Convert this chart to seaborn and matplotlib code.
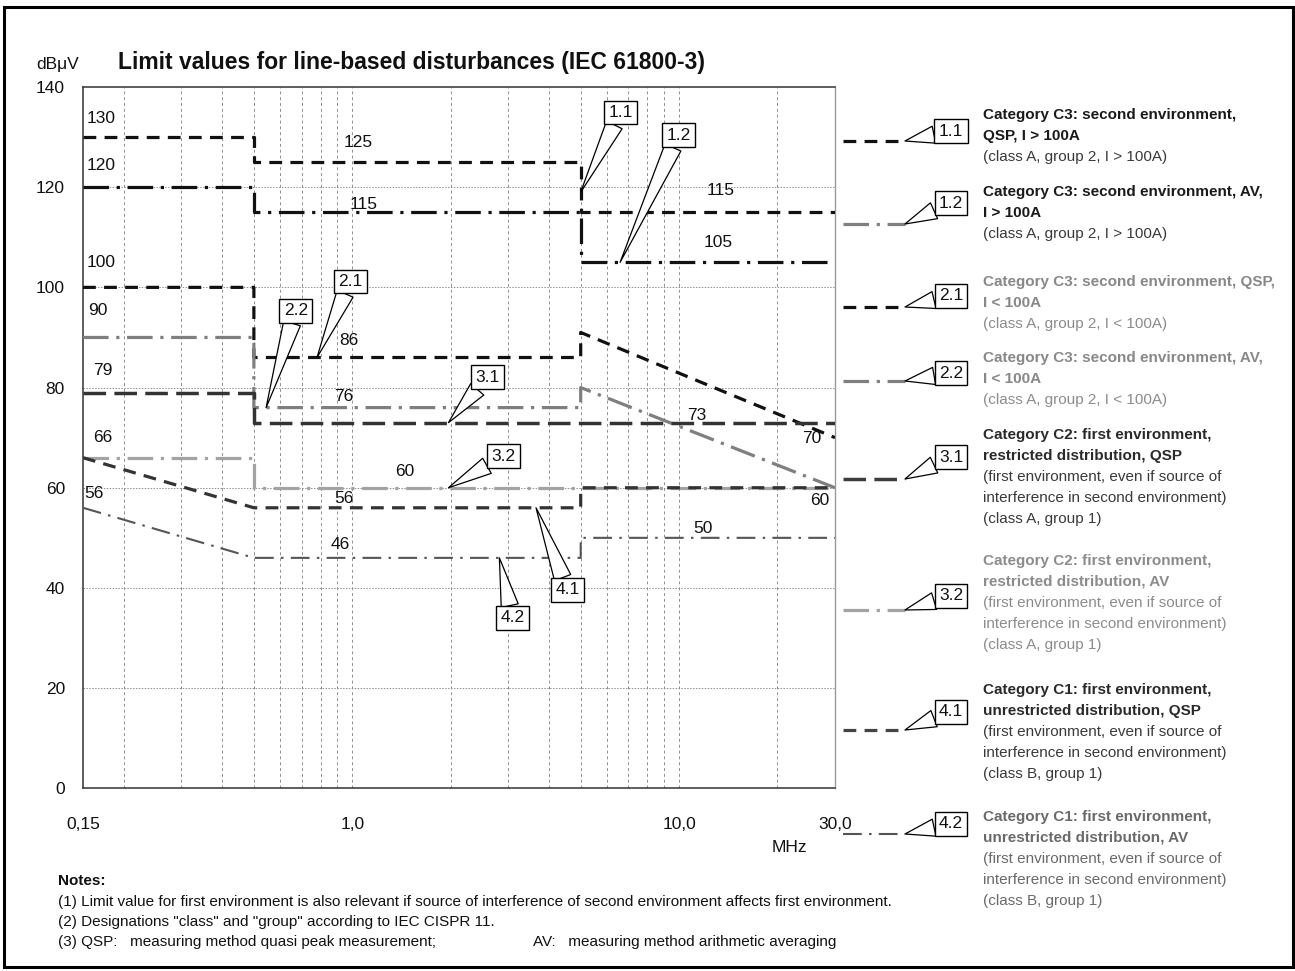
import matplotlib
matplotlib.use("Agg")
import matplotlib.pyplot as plt
import seaborn as sns
from matplotlib.patches import Rectangle

# ---- limit curves: frequency breakpoints (MHz) and limit levels (dBuV) ----
freq_c3_high = [0.15, 0.5, 0.5, 5.0, 5.0, 30.0]
qsp_c3_high = [130, 130, 125, 125, 115, 115]      # 1.1
av_c3_high = [120, 120, 115, 115, 105, 105]       # 1.2

freq_c3_low = [0.15, 0.5, 0.5, 5.0, 5.0, 30.0]
qsp_c3_low = [100, 100, 86, 86, 91, 70]           # 2.1
av_c3_low = [90, 90, 76, 76, 80, 60]              # 2.2

freq_c2 = [0.15, 0.5, 0.5, 30.0]
qsp_c2 = [79, 79, 73, 73]                         # 3.1
av_c2 = [66, 66, 60, 60]                          # 3.2

freq_c1 = [0.15, 0.5, 5.0, 5.0, 30.0]
qsp_c1 = [66, 56, 56, 60, 60]                     # 4.1
av_c1 = [56, 46, 46, 50, 50]                      # 4.2

curve_ids = ["1.1", "1.2", "2.1", "2.2", "3.1", "3.2", "4.1", "4.2"]
y_ticks = [0, 20, 40, 60, 80, 100, 120, 140]
x_major = [0.15, 1.0, 10.0, 30.0]
x_major_labels = ["0,15", "1,0", "10,0", "30,0"]
x_minor = [0.2, 0.3, 0.4, 0.5, 0.6, 0.7, 0.8, 0.9,
           2, 3, 4, 5, 6, 7, 8, 9, 20]

legend_titles = [
    ["Category C3: second environment,", "QSP, I > 100A"],
    ["Category C3: second environment, AV,", "I > 100A"],
    ["Category C3: second environment, QSP,", "I < 100A"],
    ["Category C3: second environment, AV,", "I < 100A"],
    ["Category C2: first environment,", "restricted distribution, QSP"],
    ["Category C2: first environment,", "restricted distribution, AV"],
    ["Category C1: first environment,", "unrestricted distribution, QSP"],
    ["Category C1: first environment,", "unrestricted distribution, AV"],
]
legend_notes = [
    ["(class A, group 2, I > 100A)"],
    ["(class A, group 2, I > 100A)"],
    ["(class A, group 2, I < 100A)"],
    ["(class A, group 2, I < 100A)"],
    ["(first environment, even if source of", "interference in second environment)", "(class A, group 1)"],
    ["(first environment, even if source of", "interference in second environment)", "(class A, group 1)"],
    ["(first environment, even if source of", "interference in second environment)", "(class B, group 1)"],
    ["(first environment, even if source of", "interference in second environment)", "(class B, group 1)"],
]
notes = [
    "(1) Limit value for first environment is also relevant if source of interference of second environment affects first environment.",
    "(2) Designations \"class\" and \"group\" according to IEC CISPR 11.",
]
note3_left = "(3) QSP:   measuring method quasi peak measurement;"
note3_right = "AV:   measuring method arithmetic averaging"

curves = [
    (freq_c3_high, qsp_c3_high), (freq_c3_high, av_c3_high),
    (freq_c3_low, qsp_c3_low), (freq_c3_low, av_c3_low),
    (freq_c2, qsp_c2), (freq_c2, av_c2),
    (freq_c1, qsp_c1), (freq_c1, av_c1),
]

# ---- line styles ----
DASH = (0, (4.0, 2.6))
LDASH = (0, (6.5, 2.4))
DASHDOT = (0, (8.0, 2.4, 1.0, 2.4))
styles = {
    "1.1": dict(color="#111111", lw=2.3, ls=DASH),
    "1.2": dict(color="#111111", lw=2.3, ls=DASHDOT),
    "2.1": dict(color="#111111", lw=2.3, ls=DASH),
    "2.2": dict(color="#7f7f7f", lw=2.3, ls=DASHDOT),
    "3.1": dict(color="#333333", lw=2.5, ls=LDASH),
    "3.2": dict(color="#a3a3a3", lw=2.3, ls=DASHDOT),
    "4.1": dict(color="#333333", lw=2.3, ls=DASH),
    "4.2": dict(color="#555555", lw=1.5, ls=(0, (9.0, 3.5, 1.2, 3.5))),
}
legend_sample_colors = {"1.1": "#111111", "1.2": "#7f7f7f", "2.1": "#111111",
                        "2.2": "#7f7f7f", "3.1": "#3c3c3c", "3.2": "#a3a3a3",
                        "4.1": "#444444", "4.2": "#555555"}
title_colors = ["#1a1a1a", "#1a1a1a", "#888888", "#888888",
                "#2a2a2a", "#8c8c8c", "#2a2a2a", "#6a6a6a"]
note_colors = ["#3a3a3a", "#3a3a3a", "#8c8c8c", "#8c8c8c",
               "#3a3a3a", "#8c8c8c", "#3a3a3a", "#6a6a6a"]

sns.set_theme(style="white")
plt.rcParams["font.family"] = ["Liberation Sans", "DejaVu Sans"]

W, H = 1295, 971
fig = plt.figure(figsize=(W / 100, H / 100), dpi=100)
fig.patch.set_facecolor("white")

# plot area in pixels: x 83..835, y 87..788
ax = fig.add_axes([83 / W, 1 - 788.3 / H, (835 - 83) / W, (788.3 - 87) / H])
ax.set_xscale("log")
ax.set_xlim(0.15, 30)
ax.set_ylim(0, 140)

for cid, (fx, fy) in zip(curve_ids, curves):
    st = styles[cid]
    sns.lineplot(x=fx, y=fy, ax=ax, estimator=None, sort=False,
                 color=st["color"], lw=st["lw"], linestyle=st["ls"], zorder=3)

ax.set_xticks(x_major)
ax.set_xticklabels(x_major_labels)
ax.set_xticks(x_minor, minor=True)
ax.xaxis.set_minor_formatter(matplotlib.ticker.NullFormatter())
ax.set_yticks(y_ticks)
ax.set_yticklabels([str(v) for v in y_ticks])
ax.tick_params(axis="x", which="major", direction="out", length=9, width=1.2,
               color="#333333", pad=12, labelsize=12.5, labelcolor="#111111")
ax.tick_params(axis="x", which="minor", length=0)
ax.tick_params(axis="y", length=0, pad=13, labelsize=12.5, labelcolor="#111111")
ax.grid(False)
for xv in x_major[1:-1] + x_minor:
    ax.axvline(xv, color="#8f8f8f", lw=0.7, ls=(0, (3, 3)), zorder=1)
for yv in y_ticks[1:-1]:
    ax.axhline(yv, color="#8f8f8f", lw=0.7, ls=(0, (1.5, 1.5)), zorder=1)
for side in ["left", "bottom", "top"]:
    ax.spines[side].set_color("#333333")
    ax.spines[side].set_linewidth(1.1)
ax.spines["right"].set_color("#9a9a9a")
ax.spines["right"].set_linewidth(1.0)
ax.set_xlabel("")
ax.set_ylabel("")

# value labels written next to each level
value_labels = [
    (qsp_c3_high[0], 0.170, 133.8), (qsp_c3_high[2], 1.04, 129.0),
    (av_c3_high[0], 0.170, 124.4), (av_c3_high[2], 1.08, 116.6),
    (qsp_c3_high[4], 13.4, 119.4), (av_c3_high[4], 13.2, 109.0),
    (qsp_c3_low[0], 0.170, 105.0), (av_c3_low[0], 0.167, 95.3),
    (qsp_c3_low[2], 0.977, 89.3), (qsp_c2[0], 0.173, 83.5),
    (av_c3_low[2], 0.944, 78.3), (qsp_c2[2], 11.3, 74.5),
    (qsp_c3_low[-1], 25.5, 69.9), (av_c2[0], 0.173, 70.1),
    (av_c2[2], 1.45, 63.3), (av_c3_low[-1], 26.9, 57.5),
    (av_c1[0], 0.162, 58.9), (qsp_c1[1], 0.944, 57.8),
    (av_c1[3], 11.8, 51.9), (av_c1[1], 0.92, 48.6),
]
for val, fx, fy in value_labels:
    ax.text(fx, fy, f"{val:g}", ha="center", va="center", fontsize=12.5,
            color="#111111", zorder=4)

# callout boxes inside the plot: (id, tip point, box centre)
callouts = [
    ("1.1", (5.0, 119.0), (6.62, 134.9)),
    ("1.2", (6.6, av_c3_high[-1]), (9.97, 130.4)),
    ("2.1", (0.78, qsp_c3_low[2]), (0.988, 101.2)),
    ("2.2", (0.545, av_c3_low[2]), (0.672, 95.3)),
    ("3.1", (1.97, qsp_c2[-1]), (2.60, 82.1)),
    ("3.2", (1.97, av_c2[-1]), (2.91, 66.3)),
    ("4.1", (3.65, qsp_c1[2]), (4.55, 39.6)),
    ("4.2", (2.82, av_c1[2]), (3.09, 34.0)),
]
box_kw = dict(boxstyle="square,pad=0.25", fc="white", ec="black", lw=1.0)
arrow_kw = dict(arrowstyle="wedge,tail_width=1.0,shrink_factor=0.5",
                fc="white", ec="black", lw=0.9, shrinkA=0, shrinkB=0)
for cid, tip, box in callouts:
    ax.annotate(cid, xy=tip, xytext=box, textcoords="data", ha="center",
                va="center", fontsize=12.5, color="#111111", bbox=box_kw,
                arrowprops=arrow_kw, zorder=6, annotation_clip=False)

# ---- overlay in pixel coordinates: frame, titles, legend, notes ----
lay = fig.add_axes([0, 0, 1, 1], zorder=5)
lay.set_xlim(0, W)
lay.set_ylim(H, 0)
lay.axis("off")
lay.patch.set_visible(False)

lay.add_patch(Rectangle((4, 7), 1289, 960, fill=False, ec="black", lw=2.2))
lay.text(118, 62, "Limit values for line-based disturbances (IEC 61800-3)",
         fontsize=16.5, fontweight="bold", ha="left", va="center", color="#111111")
lay.text(36, 64, "dBμV", fontsize=12.5, ha="left", va="center", color="#111111")
lay.text(789, 848, "MHz", fontsize=12.5, ha="center", va="center", color="#111111")

first_line_y = [115, 192, 282, 358, 435, 561, 690, 817]
sample_y = [141, 224, 307, 381, 479, 610, 730, 834]
box_y = [131, 203, 296, 373, 457, 596, 712, 824]
step = 21
for i, cid in enumerate(curve_ids):
    st = styles[cid]
    lay.plot([843, 905], [sample_y[i], sample_y[i]], color=legend_sample_colors[cid],
             lw=st["lw"], linestyle=st["ls"], solid_capstyle="butt")
    lay.annotate(cid, xy=(905, sample_y[i]), xytext=(951, box_y[i]),
                 textcoords="data", ha="center", va="center", fontsize=12.5,
                 color="#111111", bbox=box_kw, arrowprops=arrow_kw)
    y = first_line_y[i]
    for line in legend_titles[i]:
        lay.text(983, y, line, fontsize=11, fontweight="bold", ha="left",
                 va="center", color=title_colors[i])
        y += step
    for line in legend_notes[i]:
        lay.text(983, y, line, fontsize=11, ha="left", va="center",
                 color=note_colors[i])
        y += step

lay.text(58, 881, "Notes:", fontsize=11, fontweight="bold", ha="left",
         va="center", color="#111111")
for k, line in enumerate(notes):
    lay.text(58, 902 + 20 * k, line, fontsize=11, ha="left", va="center",
             color="#111111")
lay.text(58, 942, note3_left, fontsize=11, ha="left", va="center", color="#111111")
lay.text(533, 942, note3_right, fontsize=11, ha="left", va="center", color="#111111")

fig.savefig("out.png", dpi=100, facecolor="white")
